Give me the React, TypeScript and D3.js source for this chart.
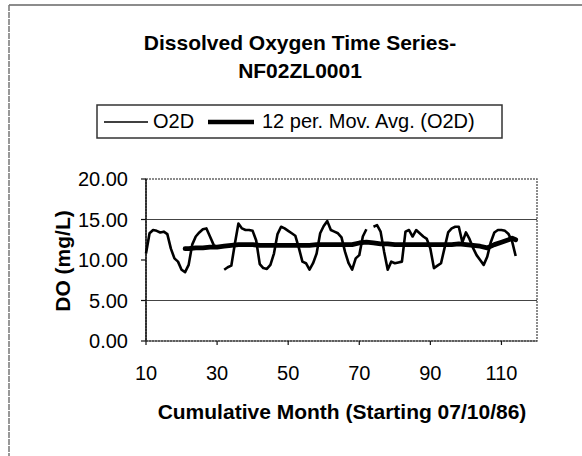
import * as d3 from "d3";

// O2D monthly readings, starting at cumulative month 10 (null = missing)
const startMonth = 10;
const o2dValues: (number | null)[] = [
  10.8, 13.3, 13.7, 13.6, 13.4, 13.5, 13.2, 11.4, 10.2, 9.8,
  8.8, 8.5, 9.4, 11.9, 12.9, 13.4, 13.8, 13.9, 12.9, 11.9,
  11.5, null, 8.8, 9.1, 9.3, 12.0, 14.5, 13.9, 13.7, 13.7,
  13.6, 12.4, 9.5, 9.0, 8.9, 9.4, 10.8, 13.2, 14.1, 13.9,
  13.6, 13.3, 13.0, 11.5, 9.8, 9.6, 8.8, 9.6, 10.8, 13.3,
  14.2, 14.8, 13.7, 13.5, 13.3, 12.8, 11.0, 9.6, 8.8, 10.2,
  10.6, 12.9, 13.8, null, 14.1, 14.3, 13.5, 11.0, 8.8, 9.8,
  9.6, 9.7, 9.8, 13.5, 13.7, 12.9, 13.7, 13.3, 12.9, 12.6,
  11.4, 9.0, 9.3, 9.6, 11.5, 13.4, 13.9, 14.1, 14.1, 12.2,
  13.4, 12.6, 11.5, 10.6, 10.0, 9.4, 10.4, 12.2, 13.4, 13.7,
  13.7, 13.6, 13.2, 12.3, 10.5,
];

// 12 per. moving average
const maMonths = [21, 22, 24, 26, 28, 30, 32, 34, 36, 38, 40, 42, 44, 46, 48, 50, 52, 54, 56, 58, 60, 62, 64, 66, 68, 70, 72, 74, 76, 78, 80, 82, 84, 86, 88, 90, 92, 94, 96, 98, 100, 102, 104, 106, 108, 110, 112, 113, 114];
const maValues = [11.4, 11.4, 11.5, 11.5, 11.6, 11.6, 11.7, 11.8, 11.9, 11.9, 11.9, 11.8, 11.8, 11.8, 11.8, 11.8, 11.8, 11.8, 11.8, 11.9, 11.9, 11.9, 11.9, 11.9, 11.9, 12.1, 12.2, 12.1, 12.0, 12.0, 11.9, 11.9, 11.9, 11.9, 11.9, 11.9, 11.9, 11.9, 11.9, 12.0, 11.9, 11.8, 11.7, 11.5, 11.9, 12.2, 12.5, 12.7, 12.5];

const xTicks = [10, 30, 50, 70, 90, 110];
const yTicks = [0, 5, 10, 15, 20];
const gridValues = [5, 15]; // only these show in the chart

const font = "'Liberation Sans', Arial, sans-serif";

export default function App() {
  const width = 582;
  const height = 456;
  const left = 146, right = 537, top = 179, bottom = 341;

  const x = d3.scaleLinear().domain([10, 120]).range([left, right]);
  const y = d3.scaleLinear().domain([0, 20]).range([bottom, top]);

  const o2d = o2dValues.map((v, i) => ({ m: startMonth + i, v }));
  const ma = maMonths.map((m, i) => ({ m, v: maValues[i] }));

  const line = d3
    .line<{ m: number; v: number | null }>()
    .defined((d) => d.v != null)
    .x((d) => x(d.m))
    .y((d) => y(d.v as number));

  return (
    <svg
      width={width}
      height={height}
      style={{ position: "absolute", left: 0, top: 0, background: "#fff" }}
      fontFamily={font}
    >
      {/* chart frame */}
      <line x1={9} x2={width} y1={5} y2={5} stroke="#666" strokeWidth={1.5} />
      <line x1={9} x2={9} y1={5} y2={height} stroke="#777" strokeWidth={1.5} strokeDasharray="6,1" />

      {/* title */}
      <text x={300} y={50} textAnchor="middle" fontSize={21} fontWeight="bold">
        Dissolved Oxygen Time Series-
      </text>
      <text x={300} y={78} textAnchor="middle" fontSize={21} fontWeight="bold">
        NF02ZL0001
      </text>

      {/* legend */}
      <rect x={97} y={105} width={405} height={33} fill="none" stroke="#333" strokeWidth={1.5} />
      <line x1={104} x2={148} y1={122} y2={122} stroke="#000" strokeWidth={1.5} />
      <text x={153} y={128} fontSize={20}>O2D</text>
      <line x1={208} x2={254} y1={122} y2={122} stroke="#000" strokeWidth={4.5} />
      <text x={262} y={128} fontSize={20}>12 per. Mov. Avg. (O2D)</text>

      {/* gridlines */}
      {gridValues.map((t) => (
        <line key={t} x1={left} x2={right} y1={y(t)} y2={y(t)} stroke="#444" strokeWidth={1} />
      ))}

      {/* plot border */}
      <rect
        x={left}
        y={top}
        width={right - left}
        height={bottom - top}
        fill="none"
        stroke="#666"
        strokeWidth={1.5}
        strokeDasharray="2,1"
      />

      {/* y axis */}
      <line x1={left} x2={left} y1={top} y2={bottom} stroke="#111" strokeWidth={1.5} />
      {yTicks.map((t) => (
        <g key={t}>
          <line x1={left - 5} x2={left} y1={y(t)} y2={y(t)} stroke="#111" strokeWidth={1.2} />
          <text x={128} y={y(t)} dy="0.36em" textAnchor="end" fontSize={20}>
            {t.toFixed(2)}
          </text>
        </g>
      ))}

      {/* x axis */}
      <line x1={left} x2={right} y1={bottom} y2={bottom} stroke="#333" strokeWidth={1.2} />
      {xTicks.map((t) => (
        <g key={t}>
          <line x1={x(t)} x2={x(t)} y1={bottom} y2={bottom + 4} stroke="#111" strokeWidth={1.2} />
          <text x={x(t)} y={380} textAnchor="middle" fontSize={20}>
            {t}
          </text>
        </g>
      ))}

      {/* series */}
      <path d={line(o2d) ?? ""} fill="none" stroke="#000" strokeWidth={2.6} strokeLinejoin="round" />
      <path d={line(ma) ?? ""} fill="none" stroke="#000" strokeWidth={4.8} strokeLinejoin="round" strokeLinecap="round" />

      {/* axis titles */}
      <text x={342} y={419} textAnchor="middle" fontSize={21} fontWeight="bold">
        Cumulative Month (Starting 07/10/86)
      </text>
      <text
        transform={`translate(62,261) rotate(-90)`}
        textAnchor="middle"
        dominantBaseline="central"
        fontSize={21}
        fontWeight="bold"
      >
        DO (mg/L)
      </text>
    </svg>
  );
}
